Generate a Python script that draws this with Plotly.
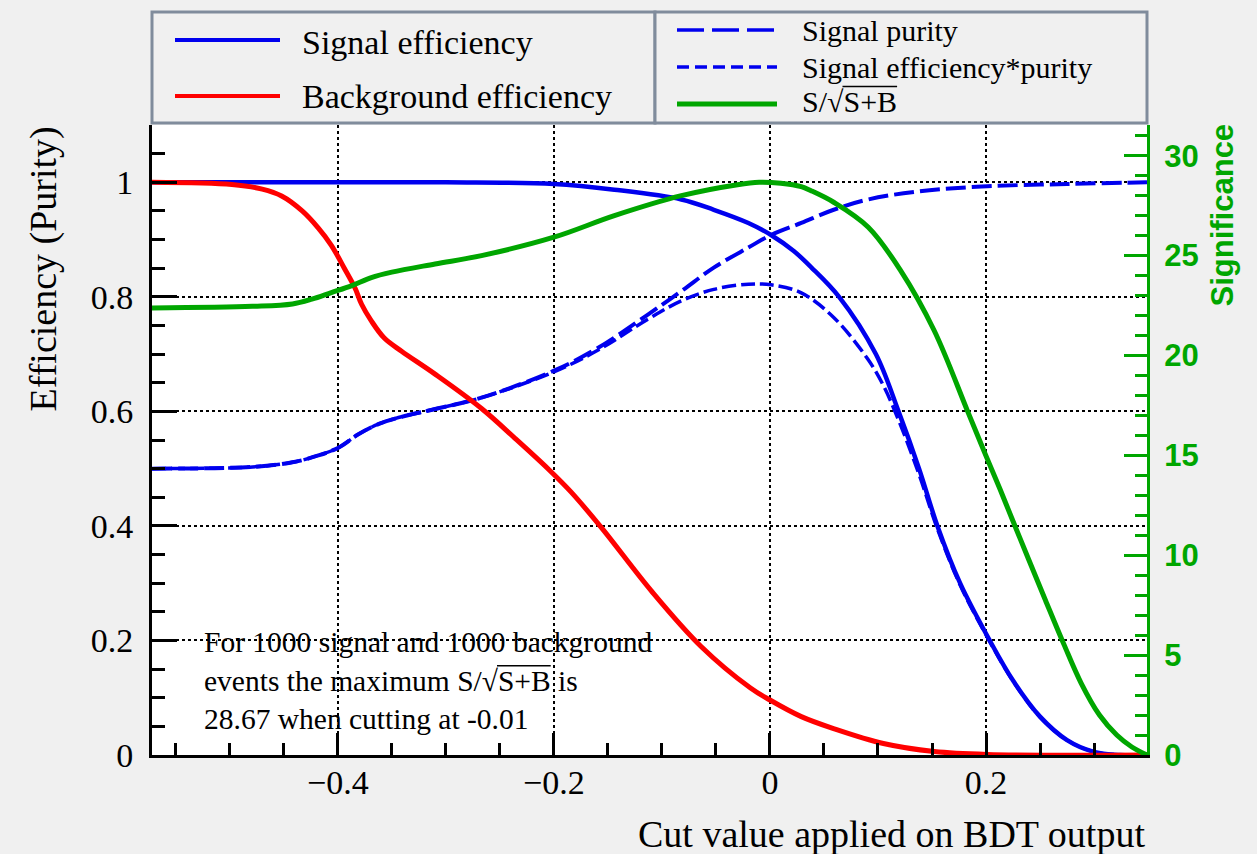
import plotly.graph_objects as go

# ---- curves of the cut-efficiency study (BDT output) ----
sig_eff_cut = [-0.572, -0.30, -0.20, -0.144, -0.082, -0.052, -0.020, 0.001, 0.022,
               0.038, 0.064, 0.098, 0.119, 0.138, 0.155, 0.176, 0.204, 0.225, 0.250,
               0.275, 0.299, 0.324, 0.349]
sig_eff = [1.0, 1.0, 0.997, 0.987, 0.970, 0.952, 0.929, 0.908, 0.880,
           0.852, 0.800, 0.700, 0.600, 0.500, 0.400, 0.300, 0.198, 0.130, 0.067,
           0.026, 0.006, 0.0, 0.0]

bkg_eff_cut = [-0.572, -0.498, -0.470, -0.452, -0.433, -0.418, -0.406, -0.394, -0.384,
               -0.378, -0.369, -0.357, -0.341, -0.310, -0.267, -0.236, -0.205, -0.184,
               -0.156, -0.110, -0.064, -0.018, 0.0, 0.029, 0.059, 0.105, 0.152, 0.201, 0.349]
bkg_eff = [1.0, 0.996, 0.988, 0.976, 0.950, 0.920, 0.890, 0.850, 0.815,
           0.787, 0.758, 0.728, 0.705, 0.665, 0.605, 0.553, 0.499, 0.459,
           0.397, 0.287, 0.190, 0.117, 0.096, 0.067, 0.046, 0.020, 0.006, 0.001, 0.0]

purity_cut = [-0.572, -0.479, -0.442, -0.418, -0.399, -0.381, -0.362, -0.338, -0.310,
              -0.267, -0.20, -0.159, -0.113, -0.082, -0.052, -0.020, 0.001, 0.029, 0.059,
              0.091, 0.137, 0.201, 0.275, 0.349]
purity = [0.500, 0.503, 0.511, 0.523, 0.537, 0.560, 0.578, 0.592, 0.604,
          0.624, 0.671, 0.711, 0.769, 0.810, 0.851, 0.886, 0.908, 0.929, 0.952,
          0.970, 0.984, 0.993, 0.997, 1.0]

effpur_cut = [-0.572, -0.479, -0.442, -0.418, -0.399, -0.381, -0.362, -0.338, -0.310,
              -0.267, -0.20, -0.159, -0.113, -0.082, -0.052, -0.020, 0.001, 0.029, 0.059,
              0.091, 0.105, 0.119, 0.138, 0.155, 0.176, 0.204, 0.225, 0.250, 0.275,
              0.299, 0.324, 0.349]
effpur = [0.500, 0.503, 0.511, 0.523, 0.537, 0.560, 0.578, 0.592, 0.604,
          0.624, 0.669, 0.707, 0.761, 0.793, 0.813, 0.822, 0.821, 0.807, 0.764,
          0.690, 0.645, 0.585, 0.490, 0.395, 0.297, 0.196, 0.129, 0.066, 0.026,
          0.006, 0.0, 0.0]

signif_cut = [-0.572, -0.479, -0.442, -0.424, -0.406, -0.387, -0.369, -0.350, -0.310,
              -0.267, -0.20, -0.144, -0.082, -0.030, -0.010, 0.010, 0.029, 0.038, 0.059,
              0.091, 0.121, 0.152, 0.183, 0.199, 0.213, 0.225, 0.239, 0.255, 0.272,
              0.288, 0.305, 0.321, 0.335, 0.349]
signif = [22.38, 22.46, 22.58, 22.82, 23.15, 23.50, 23.90, 24.17, 24.58,
          25.00, 25.92, 27.00, 28.00, 28.55, 28.67, 28.62, 28.45, 28.25, 27.67,
          26.42, 24.25, 21.25, 17.20, 15.10, 13.30, 11.70, 9.85, 7.75, 5.55,
          3.60, 2.00, 1.00, 0.40, 0.0]

max_signif = 28.67
best_cut = -0.01
n_signal, n_background = 1000, 1000

BLUE = "#0000ee"
RED = "#ff0000"
GREEN = "rgb(0,166,0)"
FRAME = "rgb(128,140,156)"
SERIF = "Liberation Serif"
SANS = "Liberation Sans"

# plot-area geometry in pixels
W, H = 1257, 854
L, R, T, B = 152, 1147, 125, 755

# Times-compatible advance widths (em) used to place the radical bar
ADV = {"S": 0.556, "/": 0.278, "√": 0.549, "+": 0.564, "B": 0.667, " ": 0.25,
       "e": 0.444, "v": 0.5, "n": 0.5, "t": 0.278, "s": 0.389, "h": 0.5,
       "m": 0.778, "a": 0.444, "x": 0.5, "i": 0.278, "u": 0.5}


def text_width(s, size):
    return sum(ADV[c] for c in s) * size


def fx(px):
    return (px - L) / (R - L)


def fy(py):
    return (B - py) / (B - T)


fig = go.Figure()
fig.add_trace(go.Scatter(x=purity_cut, y=purity, mode="lines", line_shape="spline",
                         line=dict(color=BLUE, width=4, dash="20px,6px"),
                         name="Signal purity"))
fig.add_trace(go.Scatter(x=effpur_cut, y=effpur, mode="lines", line_shape="spline",
                         line=dict(color=BLUE, width=3.5, dash="14px,5px"),
                         name="Signal efficiency*purity"))
fig.add_trace(go.Scatter(x=sig_eff_cut, y=sig_eff, mode="lines", line_shape="spline",
                         line=dict(color=BLUE, width=4.5), name="Signal efficiency"))
fig.add_trace(go.Scatter(x=bkg_eff_cut, y=bkg_eff, mode="lines", line_shape="spline",
                         line=dict(color=RED, width=5), name="Background efficiency"))
fig.add_trace(go.Scatter(x=signif_cut, y=signif, mode="lines", line_shape="spline",
                         line=dict(color=GREEN, width=5), name="S/sqrt(S+B)", yaxis="y2"))

shapes = []
annotations = []


def radical_bar(prefix, text_x, text_y, size):
    """Horizontal bar over 'S+B' following the prefix, as a paper-space line."""
    x0 = text_x + 2 + text_width(prefix, size)
    x1 = x0 + text_width("S+B", size)
    yb = text_y - 0.52 * size
    shapes.append(dict(type="line", xref="paper", yref="paper",
                       x0=fx(x0 - 1), x1=fx(x1), y0=fy(yb), y1=fy(yb),
                       line=dict(color="black", width=1.5)))


# legend frames
for x0, x1 in [(152, 655), (655, 1147)]:
    shapes.append(dict(type="rect", xref="paper", yref="paper",
                       x0=fx(x0), x1=fx(x1), y0=fy(123), y1=fy(12),
                       fillcolor="#f0f0f0", line=dict(color=FRAME, width=3)))

SQRT_SB = "S/√S+B"
legend_rows = [
    (175, 280, 40, BLUE, None, 4, 300, 42, "Signal efficiency", 34),
    (175, 280, 96, RED, None, 4, 300, 97, "Background efficiency", 34),
    (677, 777, 30, BLUE, "27px,8px", 3.5, 800, 30, "Signal purity", 30),
    (677, 777, 67, BLUE, "12px,6px", 3.5, 800, 67, "Signal efficiency*purity", 30),
    (677, 777, 104, GREEN, None, 5, 800, 102, SQRT_SB, 30),
]
for x0, x1, ly, col, dash, lw, tx, ty, label, fs in legend_rows:
    ln = dict(color=col, width=lw)
    if dash:
        ln["dash"] = dash
    shapes.append(dict(type="line", xref="paper", yref="paper",
                       x0=fx(x0), x1=fx(x1), y0=fy(ly), y1=fy(ly), line=ln))
    annotations.append(dict(xref="paper", yref="paper", x=fx(tx), y=fy(ty),
                            xanchor="left", yanchor="middle", showarrow=False,
                            text=label, font=dict(family=SERIF, size=fs, color="black")))
    if label == SQRT_SB:
        radical_bar("S/√", tx, ty, fs)

# summary text inside the frame
INFO_SIZE = 29.5
info_lines = [
    f"For {n_signal} signal and {n_background} background",
    f"events the maximum {SQRT_SB} is",
    f"{max_signif:.2f} when cutting at {best_cut:.2f}",
]
for line, ty in zip(info_lines, [642, 681, 719]):
    annotations.append(dict(xref="paper", yref="paper", x=fx(202), y=fy(ty),
                            xanchor="left", yanchor="middle", showarrow=False,
                            text=line, font=dict(family=SERIF, size=INFO_SIZE, color="black")))
radical_bar("events the maximum S/√", 202, 681, INFO_SIZE)

# axis titles
annotations.append(dict(xref="paper", yref="paper", x=fx(1147), y=fy(834),
                        xanchor="right", yanchor="middle", showarrow=False,
                        text="Cut value applied on BDT output",
                        font=dict(family=SERIF, size=38, color="black")))
annotations.append(dict(xref="paper", yref="paper", x=fx(43), y=fy(125),
                        xanchor="center", yanchor="top", showarrow=False, textangle=-90,
                        text="Efficiency (Purity)",
                        font=dict(family=SERIF, size=38, color="black")))
annotations.append(dict(xref="paper", yref="paper", x=fx(1222), y=fy(122),
                        xanchor="center", yanchor="top", showarrow=False, textangle=-90,
                        text="Significance",
                        font=dict(family=SANS, size=31, color=GREEN, weight="bold")))

fig.update_layout(
    width=W, height=H,
    margin=dict(l=L, r=W - R, t=T, b=H - B, pad=0),
    paper_bgcolor="#f0f0f0",
    plot_bgcolor="white",
    showlegend=False,
    shapes=shapes,
    annotations=annotations,
    xaxis=dict(range=[-0.572, 0.349], dtick=0.2, tick0=0,
               ticks="inside", ticklen=22, tickwidth=2.5, tickcolor="black",
               minor=dict(dtick=0.05, ticks="inside", ticklen=12, tickwidth=2.5,
                          tickcolor="black", showgrid=False),
               showline=True, linecolor="black", linewidth=3,
               showgrid=True, gridcolor="black", gridwidth=2, griddash="dot",
               zeroline=False, ticklabelstandoff=-5,
               tickfont=dict(family=SERIF, size=34, color="black")),
    yaxis=dict(range=[0, 1.1], dtick=0.2, tick0=0,
               ticks="inside", ticklen=25, tickwidth=2.5, tickcolor="black",
               minor=dict(dtick=0.05, ticks="inside", ticklen=13, tickwidth=2.5,
                          tickcolor="black", showgrid=False),
               showline=True, linecolor="black", linewidth=3,
               showgrid=True, gridcolor="black", gridwidth=2, griddash="dot",
               zeroline=False, ticklabelstandoff=9,
               tickfont=dict(family=SERIF, size=34, color="black")),
    yaxis2=dict(range=[0, max_signif * 1.1], dtick=5, tick0=0, overlaying="y",
                side="right", anchor="x",
                ticks="inside", ticklen=23, tickwidth=2.5, tickcolor=GREEN,
                minor=dict(dtick=1, ticks="inside", ticklen=12, tickwidth=2.5,
                           tickcolor=GREEN, showgrid=False),
                showline=True, linecolor=GREEN, linewidth=3,
                showgrid=False, zeroline=False, ticklabelstandoff=8,
                tickfont=dict(family=SANS, size=31, color=GREEN, weight="bold")),
)

fig.write_html("out.html")
